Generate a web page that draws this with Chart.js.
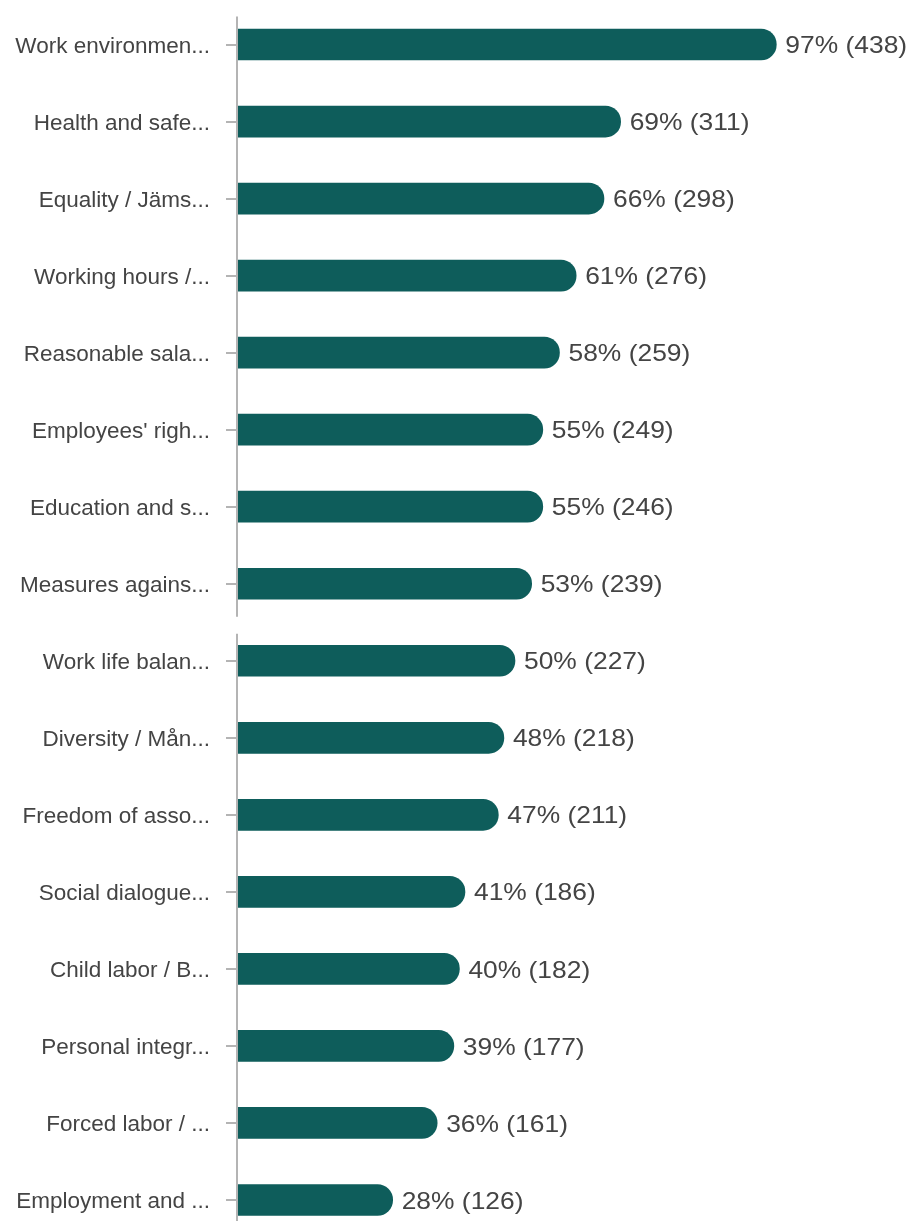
<!DOCTYPE html>
<html>
<head>
<meta charset="utf-8">
<script src="https://cdn.jsdelivr.net/npm/chart.js@4/dist/chart.umd.min.js"></script>
<style>
html,body{margin:0;padding:0;background:#fff;overflow:hidden;}
#wrap{width:912px;height:1240px;position:relative;}
</style>
</head>
<body>
<div id="wrap"><canvas id="c"></canvas></div>
<script>
const categories = [
  "Work environmen...",
  "Health and safe...",
  "Equality / Jäms...",
  "Working hours /...",
  "Reasonable sala...",
  "Employees' righ...",
  "Education and s...",
  "Measures agains...",
  "Work life balan...",
  "Diversity / Mån...",
  "Freedom of asso...",
  "Social dialogue...",
  "Child labor / B...",
  "Personal integr...",
  "Forced labor / ...",
  "Employment and ..."
];
const percents = [97, 69, 66, 61, 58, 55, 55, 53, 50, 48, 47, 41, 40, 39, 36, 28];
const counts = [438, 311, 298, 276, 259, 249, 246, 239, 227, 218, 211, 186, 182, 177, 161, 126];

const BAR = '#0e5d5b';
const TEXT = '#444444';

const valueLabels = {
  id: 'valueLabels',
  afterDatasetsDraw(chart) {
    const ctx = chart.ctx;
    const meta = chart.getDatasetMeta(0);
    ctx.save();
    ctx.font = '24px "Liberation Sans", Arial, sans-serif';
    ctx.fillStyle = TEXT;
    ctx.textBaseline = 'middle';
    ctx.textAlign = 'left';
    meta.data.forEach((bar, i) => {
      ctx.save();
      ctx.translate(bar.x + 9, bar.y + 2);
      ctx.scale(1.1, 1);
      ctx.fillText(percents[i] + '% (' + counts[i] + ')', 0, 0);
      ctx.restore();
    });
    ctx.restore();
  }
};

const axisLine = {
  id: 'axisLine',
  afterDraw(chart) {
    const ctx = chart.ctx;
    const y = chart.scales.y;
    const x = chart.chartArea.left;
    const gapTop = y.getPixelForValue(7) + 33;
    const gapBot = y.getPixelForValue(8) - 27;
    ctx.save();
    ctx.strokeStyle = '#b4b4b4';
    ctx.lineWidth = 2;
    ctx.beginPath();
    ctx.moveTo(x, y.getPixelForValue(0) - 28);
    ctx.lineTo(x, gapTop);
    ctx.moveTo(x, gapBot);
    ctx.lineTo(x, chart.chartArea.bottom);
    ctx.stroke();
    ctx.restore();
  }
};

new Chart(document.getElementById('c'), {
  type: 'bar',
  data: {
    labels: categories,
    datasets: [{
      data: percents,
      backgroundColor: BAR,
      borderRadius: 16,
      borderSkipped: 'start',
      barThickness: 31
    }]
  },
  options: {
    indexAxis: 'y',
    responsive: true,
    maintainAspectRatio: false,
    animation: false,
    layout: { padding: { left: 0, right: 119, top: 6, bottom: 1.5 } },
    plugins: { legend: { display: false }, tooltip: { enabled: false } },
    scales: {
      x: { display: false, min: 0, max: 100 },
      y: {
        afterFit(scale) { scale.width = 237; scale.paddingTop = 0; scale.paddingBottom = 0; },
        border: { display: false },
        grid: { drawOnChartArea: false, tickLength: 11, color: '#b4b4b4', lineWidth: 2, offset: false },
        ticks: {
          padding: 16,
          labelOffset: 2,
          color: TEXT,
          font: { family: '"Liberation Sans", Arial, sans-serif', size: 22.5 },
          autoSkip: false
        }
      }
    }
  },
  plugins: [valueLabels, axisLine]
});
</script>
</body>
</html>
